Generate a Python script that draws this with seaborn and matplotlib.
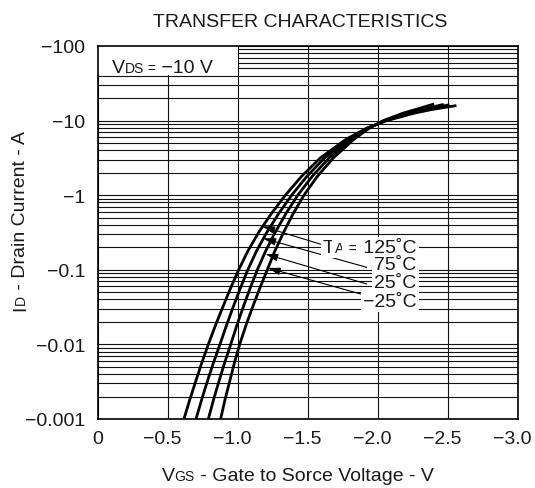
import matplotlib
matplotlib.use("Agg")
import matplotlib.pyplot as plt
import seaborn as sns
import pandas as pd
from matplotlib.patches import Rectangle
from matplotlib.transforms import IdentityTransform, ScaledTranslation
from matplotlib.ticker import NullFormatter

# drain current magnitude (A) shared by all curves, the last point of each curve differs
CURRENT = [0.001, 0.00178, 0.00316, 0.00562, 0.01, 0.0178, 0.0316, 0.0562, 0.1, 0.178,
           0.316, 0.562, 1.0, 1.78, 3.16, 5.62, 7.94, 10.0, 12.6, 14.1]

# gate voltage magnitude (V) for each temperature
VGS_125 = [0.614, 0.654, 0.697, 0.741, 0.788, 0.838, 0.891, 0.946, 1.005, 1.070,
           1.147, 1.237, 1.338, 1.453, 1.588, 1.772, 1.920, 2.062, 2.260, 2.385, 2.56]
VGS_75 = [0.700, 0.739, 0.780, 0.824, 0.871, 0.917, 0.965, 1.016, 1.070, 1.132,
          1.205, 1.289, 1.383, 1.491, 1.619, 1.790, 1.927, 2.054, 2.233, 2.348, 2.51]
VGS_25 = [0.788, 0.824, 0.863, 0.904, 0.948, 0.991, 1.037, 1.086, 1.138, 1.197,
          1.265, 1.341, 1.427, 1.529, 1.651, 1.810, 1.933, 2.046, 2.207, 2.312, 2.47]
VGS_M25 = [0.876, 0.906, 0.940, 0.974, 1.012, 1.056, 1.104, 1.155, 1.209, 1.263,
           1.325, 1.393, 1.471, 1.566, 1.681, 1.828, 1.940, 2.038, 2.180, 2.270, 2.40]
END_CURRENT = [15.9, 16.3, 16.5, 16.7]

TEMPS = ["125", "75", "25", "-25"]
TEMP_LABELS = ["125˚C", "75˚C", "25˚C", "−25˚C"]

# arrow tips on the curves and tails at the labels (V, A)
ARROW_TIP_V = [1.172, 1.180, 1.195, 1.212]
ARROW_TIP_I = [0.383, 0.264, 0.163, 0.106]
ARROW_TAIL_V = [1.657, 1.919, 1.919, 1.919]
ARROW_TAIL_I = [0.202, 0.108, 0.0646, 0.045]

X_TICKS = [0, 0.5, 1.0, 1.5, 2.0, 2.5, 3.0]
X_TICK_LABELS = ["0", "−0.5", "−1.0", "−1.5", "−2.0", "−2.5", "−3.0"]
Y_TICKS = [0.001, 0.01, 0.1, 1, 10, 100]
Y_TICK_LABELS = ["−0.001", "−0.01", "−0.1", "−1", "−10", "−100"]

TEXT_COLOR = "#1a1a1a"
BIG = 14
SMALL = 10


def rich_text(fig, pieces, x, y, ha="left", rotation=0, **kw):
    '''draw text pieces of different sizes on one baseline, in pixel coords'''
    renderer = fig.canvas.get_renderer()
    arts = []
    for s, size in pieces:
        arts.append(fig.text(x, y, s, fontsize=size, transform=IdentityTransform(),
                             rotation=rotation, rotation_mode="anchor",
                             ha="left", va="baseline", color=TEXT_COLOR, **kw))
    lengths = []
    for t in arts:
        bb = t.get_window_extent(renderer)
        lengths.append(bb.width if rotation == 0 else bb.height)
    total = sum(lengths)
    pos = {"left": 0, "center": -total / 2, "right": -total}[ha]
    for t, w in zip(arts, lengths):
        if rotation == 0:
            t.set_position((x + pos, y))
        else:
            t.set_position((x, y + pos))
        pos += w
    return arts


def main():
    sns.set_style("white")
    plt.rcParams["font.family"] = ["Liberation Sans", "DejaVu Sans"]

    rows = []
    for temp, vgs, end in zip(TEMPS, [VGS_125, VGS_75, VGS_25, VGS_M25], END_CURRENT):
        for v, i in zip(vgs, CURRENT + [end]):
            rows.append({"temp": temp, "vgs": v, "id": i})
    df = pd.DataFrame(rows)

    fig = plt.figure(figsize=(5.35, 4.89), dpi=100)
    ax = fig.add_axes([98 / 535, 69 / 489, 420 / 535, 373 / 489])

    for temp in TEMPS:
        sns.lineplot(data=df[df["temp"] == temp], x="vgs", y="id", color="black",
                     lw=2.0, ax=ax, sort=False, estimator=None, zorder=3,
                     solid_capstyle="butt")

    ax.set_yscale("log")
    ax.set_xlim(0, 3.0)
    ax.set_ylim(0.001, 100)
    ax.set_xticks(X_TICKS)
    ax.set_xticklabels(X_TICK_LABELS)
    ax.set_yticks(Y_TICKS)
    ax.set_yticklabels(Y_TICK_LABELS)
    ax.yaxis.set_minor_formatter(NullFormatter())
    ax.set_xlabel("")
    ax.set_ylabel("")
    ax.set_axisbelow(True)
    ax.grid(True, which="both", color="#111111", lw=0.8)
    ax.tick_params(which="both", length=0, labelsize=BIG, labelcolor=TEXT_COLOR)
    ax.tick_params(axis="x", pad=8)
    ax.tick_params(axis="y", pad=9)
    # x labels sit a little left of their grid lines in the original
    shift = ScaledTranslation(-4 / 72, 0, fig.dpi_scale_trans)
    for lab in ax.get_xticklabels()[1:]:
        lab.set_transform(lab.get_transform() + shift)
    for sp in ax.spines.values():
        sp.set_color("black")
        sp.set_linewidth(1.2)

    # white box under the VDS note
    ax.add_patch(Rectangle((0, 41), 1.0, 59, facecolor="white", edgecolor="none", zorder=1))

    for k in range(4):
        ax.annotate("", xy=(ARROW_TIP_V[k], ARROW_TIP_I[k]),
                    xytext=(ARROW_TAIL_V[k], ARROW_TAIL_I[k]),
                    arrowprops=dict(arrowstyle="-|>,head_length=0.75,head_width=0.22",
                                    color="black", lw=0.8, shrinkA=0, shrinkB=0),
                    zorder=4)

    box = dict(facecolor="white", edgecolor="none", pad=1.5)
    rich_text(fig, [("V", BIG), ("DS", SMALL), (" =", SMALL), (" −10 V", BIG)], 111.7, 416)
    rich_text(fig, [("T", BIG), ("A", SMALL), (" =", 12), (" " + TEMP_LABELS[0], BIG)],
              416.7, 236, ha="right", bbox=box)
    for label, base in zip(TEMP_LABELS[1:], [219, 201, 182]):
        rich_text(fig, [(label, BIG)], 416.7, base, ha="right", bbox=box)

    rich_text(fig, [("TRANSFER CHARACTERISTICS", 14)], 300, 462.3, ha="center")
    rich_text(fig, [("V", BIG), ("GS", SMALL), (" - Gate to Sorce Voltage - V", BIG)],
              297.5, 8, ha="center")
    rich_text(fig, [("I", BIG), ("D", SMALL), (" - Drain Current - A", BIG)],
              25, 268, ha="center", rotation=90)

    fig.savefig("out.png", dpi=100)


if __name__ == "__main__":
    main()
